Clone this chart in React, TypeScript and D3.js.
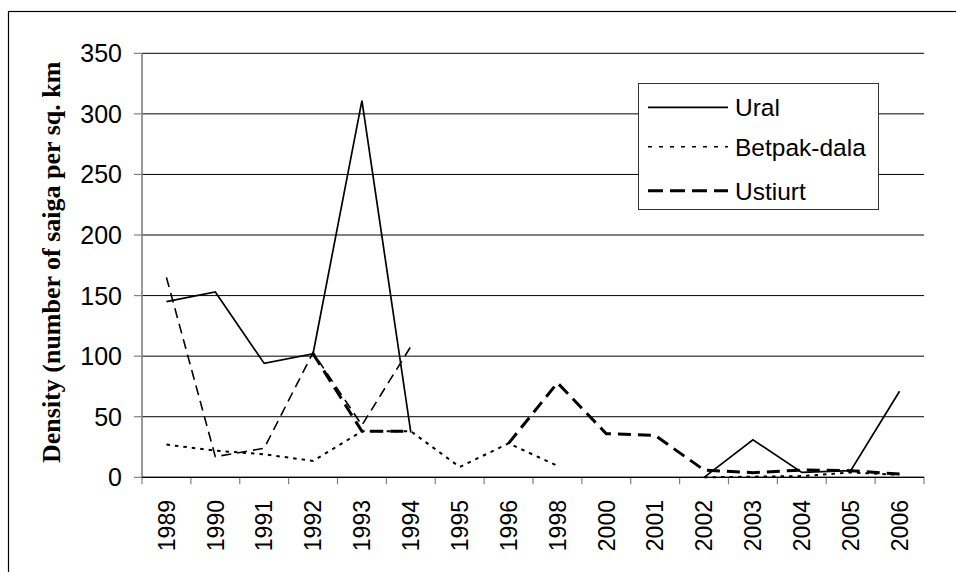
import React from "react";
import * as d3 from "d3";

const years = ["1989","1990","1991","1992","1993","1994","1995","1996","1998","2000","2001","2002","2003","2004","2005","2006"];
const ural: (number | null)[] = [145, 153, 94, 102, 311, 37, null, null, null, null, null, 0, 31, 4, 5.5, 71];
const betpakDala: (number | null)[] = [27, 22, 19, 13.5, 38, 38, 8.5, 28, 9.5, null, null, 0, 0.5, 1, 4, 2];
const ustiurt: (number | null)[] = [null, null, null, 102, 38, 38, null, 28, 78, 36, 34.5, 6, 3.8, 6, 5.5, 2.7];
const unlabeled: (number | null)[] = [165, 17, 24, 103, 43, 108, null, null, null, null, null, null, null, null, null, null];
const yTicks = [0, 50, 100, 150, 200, 250, 300, 350];
const legendNames = ["Ural", "Betpak-dala", "Ustiurt"];

const W = 956, H = 572;
const L = 142, R = 924, T = 53.3, B = 477.3;

export default function App() {
  const x = d3.scaleBand<string>().domain(years).range([L, R]).padding(0);
  const y = d3.scaleLinear().domain([0, 350]).range([B, T]);
  const cx = (i: number) => (x(years[i]) as number) + x.bandwidth() / 2;
  const line = d3
    .line<number | null>()
    .defined((d) => d != null)
    .x((_, i) => cx(i))
    .y((d) => y(d as number));

  const series = [
    { data: unlabeled, w: 1.6, dash: "10,6" },
    { data: betpakDala, w: 2, dash: "3.5,5" },
    { data: ustiurt, w: 3, dash: "13,7" },
    { data: ural, w: 1.7, dash: null as string | null },
  ];
  const legendStyles = [
    { w: 1.7, dash: null as string | null },
    { w: 1.5, dash: "4,7" },
    { w: 3, dash: "15,7" },
  ];
  const legendY = [107.3, 146.7, 190.7];
  const boundaries = d3.range(years.length + 1).map((i) => L + i * x.bandwidth());
  const sans = "'Liberation Sans', Arial, sans-serif";

  return (
    <svg width={W} height={H} style={{ position: "absolute", left: 0, top: 0, display: "block", background: "#fff" }}>
      <defs>
        <clipPath id="titleClip">
          <rect x={0} y={62} width={120} height={500} />
        </clipPath>
      </defs>
      <rect x={0} y={0} width={W} height={H} fill="#fff" />
      <rect x={8.5} y={11.5} width={1000} height={700} fill="none" stroke="#000" strokeWidth={1.2} />

      {/* gridlines */}
      {yTicks.map((t) => (
        <line key={"g" + t} x1={L} x2={R} y1={y(t)} y2={y(t)} stroke="#000" strokeWidth={1} />
      ))}
      {/* y ticks */}
      {yTicks.map((t) => (
        <line key={"yt" + t} x1={134} x2={L} y1={y(t)} y2={y(t)} stroke="#808080" strokeWidth={1.2} />
      ))}
      {yTicks.map((t) => (
        <text key={"yl" + t} x={122} y={y(t)} dy="0.36em" textAnchor="end" fontFamily={sans} fontSize={25} fill="#000">
          {t}
        </text>
      ))}
      <line x1={L} x2={L} y1={T} y2={B} stroke="#808080" strokeWidth={1.6} />
      {/* x ticks */}
      {boundaries.map((b, i) => (
        <line key={"xt" + i} x1={b} x2={b} y1={B} y2={B + 7} stroke="#808080" strokeWidth={1.2} />
      ))}
      {years.map((yr, i) => (
        <text
          key={"xl" + yr}
          transform={`translate(${cx(i)},${500}) rotate(-90)`}
          dy="0.36em"
          textAnchor="end"
          fontFamily={sans}
          fontSize={23}
          fill="#000"
        >
          {yr}
        </text>
      ))}

      {/* y title */}
      <g clipPath="url(#titleClip)">
        <text
          transform={`translate(60,463) rotate(-90)`}
          textAnchor="start"
          fontFamily="'Liberation Serif', 'Times New Roman', serif"
          fontWeight="bold"
          fontSize={26}
          fill="#000"
        >
          Density (number of saiga per sq. km)
        </text>
      </g>

      {/* series */}
      {series.map((s, i) => (
        <path
          key={"s" + i}
          d={line(s.data) || ""}
          fill="none"
          stroke="#000"
          strokeWidth={s.w}
          strokeDasharray={s.dash || undefined}
          strokeLinejoin="miter"
        />
      ))}
      <line x1={L} x2={R} y1={B} y2={B} stroke="#000" strokeWidth={1.2} />

      {/* legend */}
      <rect x={638.5} y={83.5} width={240} height={126} fill="#fff" stroke="#333" strokeWidth={1} />
      {legendNames.map((n, i) => (
        <g key={"lg" + n}>
          <line
            x1={648}
            x2={728}
            y1={legendY[i]}
            y2={legendY[i]}
            stroke="#000"
            strokeWidth={legendStyles[i].w}
            strokeDasharray={legendStyles[i].dash || undefined}
          />
          <text x={735} y={legendY[i]} dy="0.36em" fontFamily={sans} fontSize={24.5} fill="#000">
            {n}
          </text>
        </g>
      ))}
    </svg>
  );
}
